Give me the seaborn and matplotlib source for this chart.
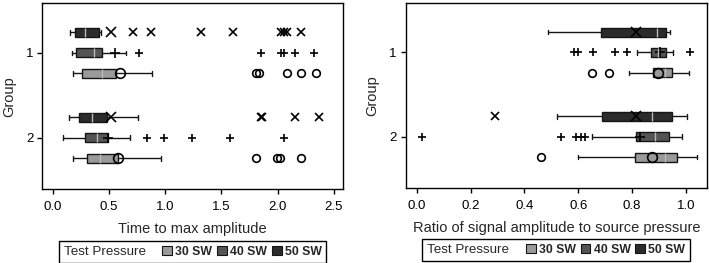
import pandas as pd
import matplotlib.pyplot as plt
import seaborn as sns
from matplotlib.patches import Patch
from matplotlib.offsetbox import HPacker

groups = ['1', '2']
pressures = ['30 SW', '40 SW', '50 SW']
draw_order = ['50 SW', '40 SW', '30 SW']  # top to bottom inside a group

# --- time to max amplitude (observations per group / test pressure) ---
time_1_30 = [0.18, 0.20, 0.22, 0.23, 0.25, 0.26, 0.265, 0.29, 0.32, 0.35, 0.38, 0.41,
             0.435, 0.46, 0.48, 0.50, 0.52, 0.54, 0.56, 0.885, 1.81, 1.83, 2.08, 2.21, 2.34]
time_1_40 = [0.17, 0.18, 0.18, 0.19, 0.19, 0.20, 0.20, 0.21, 0.23, 0.26, 0.28, 0.31, 0.33,
             0.35, 0.37, 0.38, 0.39, 0.40, 0.41, 0.42, 0.43, 0.435, 0.65, 0.765, 1.85,
             2.03, 2.06, 2.15, 2.32]
time_1_50 = [0.15, 0.15, 0.16, 0.17, 0.17, 0.18, 0.18, 0.19, 0.19, 0.20, 0.21, 0.22, 0.23,
             0.24, 0.25, 0.26, 0.27, 0.28, 0.29, 0.30, 0.31, 0.33, 0.34, 0.36, 0.37, 0.39,
             0.40, 0.41, 0.43, 0.71, 0.87, 1.32, 1.60, 2.03, 2.06, 2.08, 2.21]
time_2_30 = [0.182, 0.22, 0.25, 0.27, 0.29, 0.302, 0.33, 0.36, 0.38, 0.40, 0.42, 0.45,
             0.49, 0.52, 0.55, 0.58, 0.96, 1.81, 1.99, 2.02, 2.205]
time_2_40 = [0.094, 0.15, 0.20, 0.24, 0.26, 0.28, 0.287, 0.30, 0.32, 0.34, 0.36, 0.38,
             0.393, 0.41, 0.43, 0.45, 0.47, 0.48, 0.494, 0.687, 0.834, 0.99, 1.24, 1.58, 2.057]
time_2_50 = [0.147, 0.17, 0.19, 0.21, 0.22, 0.234, 0.25, 0.28, 0.31, 0.33, 0.35, 0.38,
             0.41, 0.44, 0.46, 0.48, 0.755, 1.85, 1.86, 2.15, 2.37]
time_mean_1 = [0.60, 0.55, 0.52]     # 30, 40, 50 SW
time_mean_2 = [0.585, 0.49, 0.515]

# --- ratio of signal amplitude to source pressure ---
ratio_1_30 = [0.652, 0.713, 0.79, 0.879, 0.89, 0.905, 0.922, 0.93, 0.94, 0.947, 0.96, 0.98, 1.01]
ratio_1_40 = [0.585, 0.598, 0.655, 0.736, 0.78, 0.819, 0.870, 0.875, 0.88, 0.885, 0.89, 0.893,
              0.897, 0.90, 0.905, 0.91, 0.915, 0.92, 0.926, 0.93, 0.935, 0.94, 0.945, 0.953, 1.015]
ratio_1_50 = [0.489, 0.56, 0.64, 0.683, 0.74, 0.82, 0.893, 0.90, 0.915, 0.927, 0.93, 0.935, 0.94]
ratio_2_30 = [0.462, 0.60, 0.72, 0.811, 0.85, 0.89, 0.922, 0.94, 0.955, 0.966, 0.99, 1.02, 1.04]
ratio_2_40 = [0.021, 0.535, 0.593, 0.609, 0.625, 0.652, 0.814, 0.83, 0.845, 0.86, 0.87, 0.88,
              0.887, 0.895, 0.905, 0.915, 0.925, 0.93, 0.936, 0.94, 0.95, 0.96, 0.97, 0.975, 0.984]
ratio_2_50 = [0.29, 0.52, 0.61, 0.69, 0.76, 0.82, 0.873, 0.90, 0.925, 0.947, 0.96, 0.98, 1.003]
ratio_mean_1 = [0.897, 0.905, 0.815]
ratio_mean_2 = [0.874, 0.831, 0.816]

box_colors = {'30 SW': '#9a9a9a', '40 SW': '#545454', '50 SW': '#2b2b2b'}
flier_markers = {'30 SW': 'o', '40 SW': '+', '50 SW': 'x'}


def long_table(boxes):
    rows = []
    for (g, p), vals in boxes.items():
        rows += [{'group': g, 'pressure': p, 'value': v} for v in vals]
    return pd.DataFrame(rows)


def mean_table(m1, m2):
    rows = []
    for g, ms in zip(groups, [m1, m2]):
        rows += [{'group': g, 'pressure': p, 'value': v} for p, v in zip(pressures, ms)]
    return pd.DataFrame(rows)


time_df = long_table({('1', '30 SW'): time_1_30, ('1', '40 SW'): time_1_40, ('1', '50 SW'): time_1_50,
                      ('2', '30 SW'): time_2_30, ('2', '40 SW'): time_2_40, ('2', '50 SW'): time_2_50})
ratio_df = long_table({('1', '30 SW'): ratio_1_30, ('1', '40 SW'): ratio_1_40, ('1', '50 SW'): ratio_1_50,
                       ('2', '30 SW'): ratio_2_30, ('2', '40 SW'): ratio_2_40, ('2', '50 SW'): ratio_2_50})
time_means = mean_table(time_mean_1, time_mean_2)
ratio_means = mean_table(ratio_mean_1, ratio_mean_2)

sns.set_theme(style='ticks')
plt.rcParams['font.family'] = ['Liberation Sans', 'DejaVu Sans']
plt.rcParams['axes.edgecolor'] = 'black'
plt.rcParams['axes.linewidth'] = 1.0
plt.rcParams['xtick.color'] = 'black'
plt.rcParams['ytick.color'] = 'black'
plt.rcParams['xtick.major.size'] = 3.5
plt.rcParams['ytick.major.size'] = 3.5


def draw_panel(ax, df, means, xlabel, xlim, xticks, ticklabels):
    for p in draw_order:
        sub = df[df['pressure'] == p]
        sns.boxplot(data=sub, x='value', y='group', hue='pressure', order=groups,
                    hue_order=draw_order, palette=box_colors, saturation=1, dodge=True,
                    width=0.723, gap=0.55, whis=1.4, linecolor='#151515', linewidth=1.0,
                    legend=False, ax=ax,
                    flierprops=dict(marker=flier_markers[p], markersize=5.5,
                                    markerfacecolor='none', markeredgecolor='black',
                                    markeredgewidth=1.2),
                    medianprops=dict(color='#b8b8b8', linewidth=1.0))
    sns.pointplot(data=means, x='value', y='group', hue='pressure', order=groups,
                  hue_order=draw_order, dodge=0.482, markers=['x', '+', 'o'],
                  linestyles='none', errorbar=None, palette={p: 'black' for p in pressures},
                  markersize=7, markeredgewidth=1.2, legend=False, ax=ax)
    for line in ax.lines:
        if line.get_marker() == 'o' and line.get_linestyle() in ('None', 'none', ''):
            line.set_markerfacecolor('none')
    ax.set_xlim(*xlim)
    ax.set_ylim(1.608, -0.585)
    ax.set_xticks(xticks)
    ax.set_xticklabels(ticklabels)
    ax.tick_params(labelsize=9.5, width=1.0)
    ax.tick_params(axis='x', pad=5)
    ax.tick_params(axis='y', pad=3)
    ax.set_xlabel(xlabel, fontsize=10.5, labelpad=6.5)
    ax.set_ylabel('Group', fontsize=10.5, labelpad=7)

    handles = [Patch(facecolor=box_colors[p], edgecolor='#151515', linewidth=0.8) for p in pressures]
    leg = ax.legend(handles, pressures, title='Test Pressure', ncol=3, loc='center',
                    bbox_to_anchor=(0.5, -0.335), frameon=True, fancybox=False,
                    edgecolor='black', framealpha=1, handlelength=0.8, handleheight=0.8,
                    handletextpad=0.25, columnspacing=0.4, borderpad=0.4,
                    prop={'weight': 'bold', 'size': 8.8},
                    title_fontproperties={'size': 9.6, 'weight': 'normal'})
    leg.get_frame().set_linewidth(1.0)
    # put the title on the same row as the entries
    old = leg._legend_box
    leg._legend_box = HPacker(pad=old.pad, sep=12, align='center',
                              children=[leg._legend_title_box, leg._legend_handle_box])
    leg._legend_box.set_figure(ax.figure)
    leg._legend_box.axes = ax
    leg._set_loc(leg._loc)


fig = plt.figure(figsize=(7.09, 2.63), dpi=100)
ax1 = fig.add_axes([0.0597, 0.280, 0.424, 0.708])
ax2 = fig.add_axes([0.5726, 0.285, 0.424, 0.703])

draw_panel(ax1, time_df, time_means, 'Time to max amplitude', (-0.092, 2.58),
           [0, 0.5, 1.0, 1.5, 2.0, 2.5], ['0.0', '0.5', '1.0', '1.5', '2.0', '2.5'])
draw_panel(ax2, ratio_df, ratio_means, 'Ratio of signal amplitude to source pressure', (-0.040, 1.077),
           [0, 0.2, 0.4, 0.6, 0.8, 1.0], ['0.0', '0.2', '0.4', '0.6', '0.8', '1.0'])

fig.savefig('out.png', dpi=100)
plt.close(fig)
